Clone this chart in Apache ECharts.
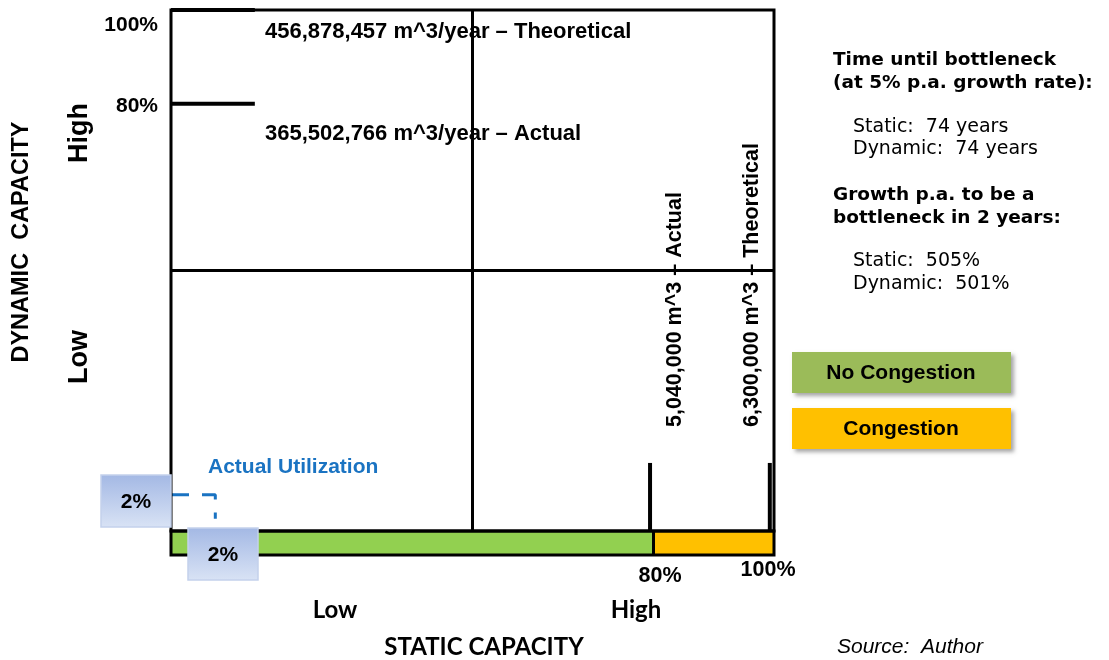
<!DOCTYPE html>
<html><head><meta charset="utf-8">
<script src="https://cdn.jsdelivr.net/npm/echarts@6/dist/echarts.min.js"></script>
<style>html,body{margin:0;padding:0;background:#fff}#c{width:1109px;height:660px}</style>
</head><body><div id="c"></div>
<script>
// ---- data ----
const statusSegments = ['No Congestion', 'Congestion'];
const statusValues = [80, 20];
const statusColors = ['#92D050', '#FFC000'];
const legendColors = ['#9BBB59', '#FFC000'];
const staticTicks = [80, 100];
const staticTickLabels = ['80%', '100%'];
const staticTickTexts = ['5,040,000 m^3 \u2013 Actual', '6,300,000 m^3 \u2013 Theoretical'];
const dynamicTicks = [80, 100];
const dynamicTickLabels = ['80%', '100%'];
const dynamicTickTexts = ['365,502,766 m^3/year \u2013 Actual', '456,878,457 m^3/year \u2013 Theoretical'];
const quadrantLevels = ['Low', 'High'];
const quadrantSplit = 1;
const utilizationLabels = ['2%', '2%'];
const utilizationMarker = [[0, -3.3], [7.4, -3.3], [7.4, -8.4]];
const summaryTitles = ['Time until bottleneck', '(at 5% p.a. growth rate):', 'Growth p.a. to be a', 'bottleneck in 2 years:'];
const summaryYears = ['Static:  74 years', 'Dynamic:  74 years'];
const summaryGrowth = ['Static:  505%', 'Dynamic:  501%'];

// ---- chart ----
const chart = echarts.init(document.getElementById('c'), null, {renderer: 'canvas'});
const H = '"Liberation Sans", Arial, sans-serif';
const C = 'Lato, "Open Sans", sans-serif';
const V = '"DejaVu Sans", Verdana, sans-serif';
const dynTickLen = 14;        // in static-axis units
const statTickRange = [-11, 3.5]; // in dynamic-axis units

const series = [];
statusValues.forEach((v, i) => series.push({
  type: 'bar', name: statusSegments[i], xAxisIndex: 2, yAxisIndex: 2, stack: 'status',
  data: [v], barWidth: '100%', silent: true, itemStyle: {color: statusColors[i]},
  markLine: i === 0 ? {symbol: 'none', silent: true, label: {show: false},
    lineStyle: {color: '#000', width: 3, type: 'solid'}, data: [{xAxis: staticTicks[0]}]} : undefined
}));
// quadrant split lines
series.push({type: 'line', xAxisIndex: 1, yAxisIndex: 1, symbol: 'none', silent: true, clip: false,
  lineStyle: {color: '#000', width: 3}, data: [[quadrantSplit, 0], [quadrantSplit, 2]]});
series.push({type: 'line', xAxisIndex: 1, yAxisIndex: 1, symbol: 'none', silent: true, clip: false,
  lineStyle: {color: '#000', width: 3}, data: [[0, quadrantSplit], [2, quadrantSplit]]});
// dynamic capacity ticks
dynamicTicks.forEach(v => series.push({type: 'line', xAxisIndex: 0, yAxisIndex: 0, symbol: 'none', silent: true, clip: false,
  lineStyle: {color: '#000', width: 4}, data: [[0, v], [dynTickLen, v]]}));
// static capacity ticks
staticTicks.forEach(v => series.push({type: 'line', xAxisIndex: 0, yAxisIndex: 0, symbol: 'none', silent: true, clip: false,
  lineStyle: {color: '#000', width: 4}, data: [[v, statTickRange[0]], [v, statTickRange[1]]]}));
// utilization marker
series.push({type: 'line', xAxisIndex: 0, yAxisIndex: 0, symbol: 'none', silent: true, clip: false,
  lineStyle: {color: '#1A73C2', width: 3, type: [18, 13]}, data: utilizationMarker});

function txt(text, x, y, font, opt) {
  opt = opt || {};
  return {type: 'text', x: x, y: y, rotation: opt.rot || 0, z: 20, silent: true,
    style: {text: text, x: 0, y: 0, font: font, fill: opt.fill || '#000',
      textAlign: opt.align || 'left', align: opt.align || 'left',
      textVerticalAlign: 'middle', verticalAlign: 'middle'}};
}
function box(x, y, w, h, fill, stroke, shadow) {
  return {type: 'rect', z: 15, silent: true, shape: {x: x, y: y, width: w, height: h},
    style: Object.assign({fill: fill, stroke: stroke || null, lineWidth: stroke ? 1.5 : 0},
      shadow ? {shadowBlur: 4, shadowOffsetX: 3, shadowOffsetY: 3, shadowColor: 'rgba(0,0,0,0.35)'} : {})};
}
const blueGrad = () => new echarts.graphic.LinearGradient(0, 0, 0, 1, [
  {offset: 0, color: '#A3B8E4'}, {offset: 1, color: '#D9E3F5'}]);

const graphic = [
  // dynamic axis labels
  txt(dynamicTickLabels[1], 158, 25, 'bold 21px ' + H, {align: 'right'}),
  txt(dynamicTickLabels[0], 158, 106, 'bold 21px ' + H, {align: 'right'}),
  txt(dynamicTickTexts[1], 265, 32, 'bold 22px ' + H),
  txt(dynamicTickTexts[0], 265, 134, 'bold 22px ' + H),
  // static axis texts (vertical)
  txt(staticTickTexts[0], 675, 427, 'bold 21.5px ' + H, {rot: Math.PI / 2}),
  txt(staticTickTexts[1], 752, 427, 'bold 21.5px ' + H, {rot: Math.PI / 2}),
  txt(staticTickLabels[0], 660, 576, 'bold 21.5px ' + H, {align: 'center'}),
  txt(staticTickLabels[1], 768, 570, 'bold 21.5px ' + H, {align: 'center'}),
  // quadrant labels
  txt(quadrantLevels[0], 335, 610, 'bold 24px ' + C, {align: 'center'}),
  txt(quadrantLevels[1], 636, 610, 'bold 24px ' + C, {align: 'center'}),
  txt('STATIC CAPACITY', 484, 647, 'bold 24px ' + C, {align: 'center'}),
  txt('DYNAMIC  CAPACITY', 22, 242, 'bold 23.5px ' + H, {align: 'center', rot: Math.PI / 2}),
  txt(quadrantLevels[1], 80, 133, 'bold 27px ' + H, {align: 'center', rot: Math.PI / 2}),
  txt(quadrantLevels[0], 80, 357, 'bold 27px ' + H, {align: 'center', rot: Math.PI / 2}),
  // utilization
  txt('Actual Utilization', 208, 467, 'bold 21px ' + H, {fill: '#1A73C2'}),
  box(101, 475, 70, 52, blueGrad(), '#C3D1EC'),
  txt(utilizationLabels[0], 136, 502, 'bold 21px ' + H, {align: 'center'}),
  box(188, 528, 70, 52, blueGrad(), '#C3D1EC'),
  txt(utilizationLabels[1], 223, 555, 'bold 21px ' + H, {align: 'center'}),
  // summary panel
  txt(summaryTitles[0], 833, 60, 'bold 18.5px ' + V),
  txt(summaryTitles[1], 833, 83, 'bold 18.5px ' + V),
  txt(summaryYears[0], 853, 127, '19px ' + V),
  txt(summaryYears[1], 853, 149, '19px ' + V),
  txt(summaryTitles[2], 833, 195, 'bold 18.5px ' + V),
  txt(summaryTitles[3], 833, 218, 'bold 18.5px ' + V),
  txt(summaryGrowth[0], 853, 261, '19px ' + V),
  txt(summaryGrowth[1], 853, 284, '19px ' + V),
  // legend boxes
  box(792, 352, 219, 41, legendColors[0], null, true),
  txt(statusSegments[0], 901, 373, 'bold 21px ' + H, {align: 'center'}),
  box(792, 408, 219, 41, legendColors[1], null, true),
  txt(statusSegments[1], 901, 429, 'bold 21px ' + H, {align: 'center'}),
  // source
  txt('Source:  Author', 837, 647, 'italic 21px ' + H)
];

chart.setOption({
  backgroundColor: '#fff',
  animation: false,
  grid: [
    {left: 171, top: 10, width: 603, height: 521, show: true, borderColor: '#000', borderWidth: 3, z: 5},
    {left: 171, top: 531, width: 603, height: 24, show: true, borderColor: '#000', borderWidth: 3, z: 5}
  ],
  xAxis: [
    {type: 'value', gridIndex: 0, min: 0, max: 100.7, show: false},
    {type: 'value', gridIndex: 0, min: 0, max: 2, show: false},
    {type: 'value', gridIndex: 1, min: 0, max: 100, show: false}
  ],
  yAxis: [
    {type: 'value', gridIndex: 0, min: -11, max: 100, show: false},
    {type: 'value', gridIndex: 0, min: 0, max: 2, show: false},
    {type: 'category', gridIndex: 1, data: ['status'], show: false}
  ],
  series: series,
  graphic: graphic
});
</script></body></html>
